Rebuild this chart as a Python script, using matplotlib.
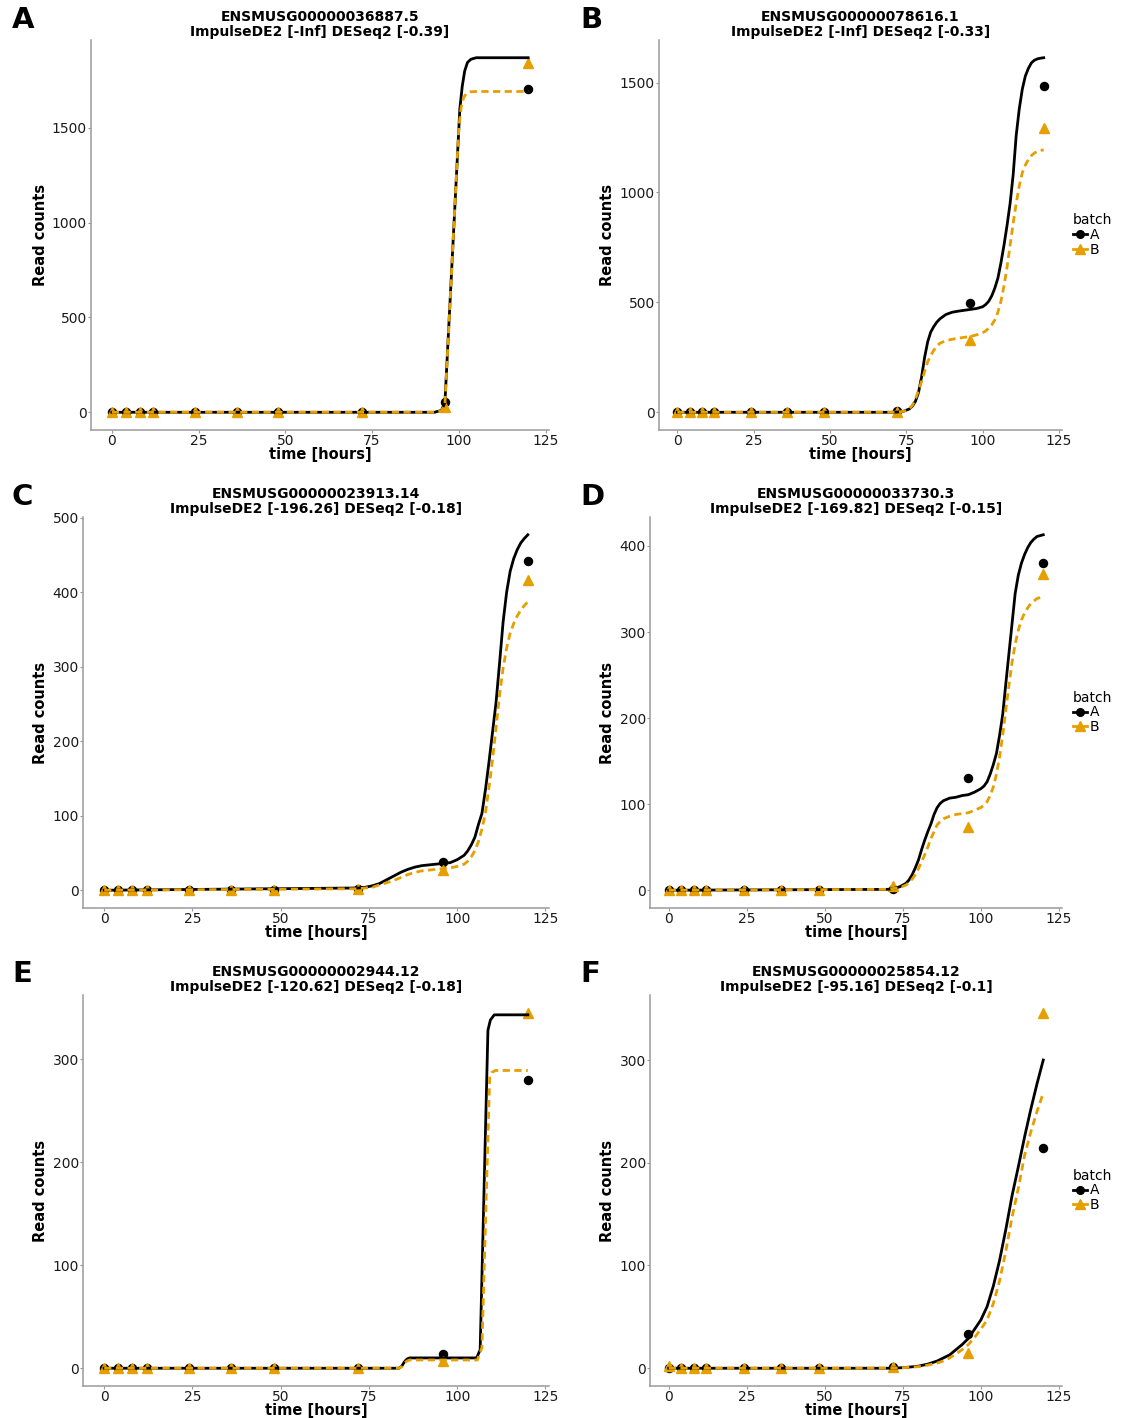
import matplotlib
matplotlib.use("Agg")
import matplotlib.pyplot as plt
from matplotlib.lines import Line2D

plt.rcParams['font.family'] = ['DejaVu Sans']

# ---------------- data ----------------
sample_times = [0, 4, 8, 12, 24, 36, 48, 72, 96, 120]

genes = ["ENSMUSG00000036887.5", "ENSMUSG00000078616.1", "ENSMUSG00000023913.14",
         "ENSMUSG00000033730.3", "ENSMUSG00000002944.12", "ENSMUSG00000025854.12"]
stats = ["ImpulseDE2 [-Inf] DESeq2 [-0.39]", "ImpulseDE2 [-Inf] DESeq2 [-0.33]",
         "ImpulseDE2 [-196.26] DESeq2 [-0.18]", "ImpulseDE2 [-169.82] DESeq2 [-0.15]",
         "ImpulseDE2 [-120.62] DESeq2 [-0.18]", "ImpulseDE2 [-95.16] DESeq2 [-0.1]"]
panel_letters = ["A", "B", "C", "D", "E", "F"]

# observed counts (batch A = black circles, batch B = orange triangles)
pts_A = [
    [0, 0, 0, 0, 0, 0, 0, 0, 53, 1706],
    [0, 0, 0, 0, 0, 0, 0, 5, 497, 1486],
    [0, 0, 0, 0, 0, 0, 0, 2, 38, 442],
    [0, 0, 0, 0, 0, 0, 0, 2, 130, 380],
    [0, 0, 0, 0, 0, 0, 0, 0, 14, 280],
    [0, 0, 0, 0, 0, 0, 0, 1, 33, 214],
]
pts_B = [
    [0, 0, 0, 0, 0, 0, 0, 0, 30, 1843],
    [0, 0, 0, 0, 0, 0, 0, 3, 328, 1294],
    [0, 0, 0, 0, 0, 0, 0, 2, 27, 416],
    [0, 0, 0, 0, 0, 0, 0, 5, 74, 368],
    [0, 0, 0, 0, 0, 0, 0, 0, 7, 345],
    [2, 0, 0, 0, 0, 0, 0, 1, 15, 346],
]

# fitted impulse curves
tB = [0, 70, 72, 74, 76, 77, 78, 79, 80, 81, 82, 83, 84, 85, 86, 88, 90, 92, 94, 96, 98,
      100, 101, 102, 103, 104, 105, 106, 107, 108, 109, 110, 111, 112, 113, 114, 115,
      116, 117, 118, 119, 120]
tC = [0, 72, 74, 76, 78, 80, 82, 84, 86, 88, 90, 92, 94, 96, 98, 100, 102, 103, 104, 105,
      106, 107, 108, 109, 110, 111, 112, 113, 114, 115, 116, 117, 118, 119, 120]
tD = [0, 70, 72, 74, 76, 77, 78, 79, 80, 81, 82, 83, 84, 85, 86, 87, 88, 90, 92, 94, 96,
      98, 100, 101, 102, 103, 104, 105, 106, 107, 108, 109, 110, 111, 112, 113, 114, 115,
      116, 117, 118, 119, 120]
tF = [0, 70, 75, 80, 83, 86, 88, 90, 92, 94, 96, 98, 100, 102, 104, 106, 108, 110, 112,
      114, 116, 118, 120]

fitA_t = [
    [0, 93, 95, 96, 100.3, 101, 101.7, 102.5, 103.5, 105, 120],
    tB, tC, tD,
    [0, 83.5, 84.3, 85, 85.8, 86.5, 105.5, 106.5, 108.7, 109.4, 110.5, 120],
    tF,
]
fitA_v = [
    [0, 0, 10, 50, 1600, 1720, 1800, 1845, 1862, 1870, 1870],
    [0, 0, 1, 4, 15, 28, 50, 90, 160, 250, 320, 365, 390, 410, 425, 445, 455, 460, 464,
     468, 472, 480, 490, 505, 530, 565, 610, 680, 760, 850, 950, 1080, 1260, 1380, 1470,
     1530, 1565, 1590, 1602, 1608, 1611, 1613],
    [0, 3, 4, 6, 9, 14, 19, 24, 28, 31, 33, 34, 35, 36, 37, 41, 47, 53, 61, 71, 88, 103,
     135, 172, 212, 252, 305, 360, 400, 428, 445, 457, 466, 472, 477],
    [0, 1, 2, 4, 8, 12, 18, 26, 35, 47, 58, 68, 77, 88, 96, 101, 104, 107, 108, 110, 111,
     114, 118, 121, 126, 135, 146, 159, 180, 204, 240, 275, 310, 345, 366, 380, 390, 398,
     404, 408, 411, 412, 413],
    [0, 0, 2, 6, 9, 10, 10, 18, 328, 338, 343, 343],
    [0, 0, 0.5, 2, 4, 7, 10, 13, 18, 23, 29, 38, 47, 60, 80, 105, 135, 168, 196, 225,
     252, 277, 300],
]
fitB_t = [
    [0, 93, 95, 96, 100, 100.7, 101.4, 102.2, 103.2, 105, 120],
    tB, tC, tD,
    [0, 83.5, 84.3, 85, 85.8, 86.5, 105.7, 107, 109.2, 109.8, 110.8, 120],
    tF,
]
fitB_v = [
    [0, 0, 8, 40, 1500, 1610, 1660, 1682, 1690, 1692, 1692],
    [0, 0, 1, 4, 15, 32, 60, 100, 140, 185, 230, 258, 282, 300, 314, 326, 332, 337, 341,
     345, 352, 362, 370, 382, 398, 420, 455, 505, 575, 660, 760, 860, 950, 1030, 1090,
     1125, 1150, 1168, 1180, 1187, 1191, 1194],
    [0, 2, 3, 4, 7, 10, 13, 17, 21, 24, 26, 27, 28, 29, 30, 32, 35, 39, 45, 53, 65, 82,
     104, 138, 175, 218, 262, 298, 325, 345, 358, 368, 376, 382, 387],
    [0, 1, 2, 3, 6, 9, 13, 18, 25, 33, 41, 50, 60, 68, 76, 80, 83, 86, 88, 89, 90, 93,
     96, 99, 103, 110, 120, 135, 155, 180, 210, 238, 265, 286, 302, 314, 322, 328, 333,
     336, 339, 340, 341],
    [0, 0, 1.5, 5, 7, 8, 8, 20, 283, 287, 289, 289],
    [0, 0, 0.5, 1.5, 3, 5, 7, 10, 14, 18, 23, 30, 38, 47, 63, 85, 114, 147, 175, 207,
     230, 250, 268],
]
yticks = [[0, 500, 1000, 1500], [0, 500, 1000, 1500], [0, 100, 200, 300, 400, 500],
          [0, 100, 200, 300, 400], [0, 100, 200, 300], [0, 100, 200, 300]]
xticks = [0, 25, 50, 75, 100, 125]
legend_panels = [False, True, False, True, False, True]

# ---------------- layout (pixels) ----------------
W, H = 1121, 1418
boxes = [(91, 549, 40, 430), (659, 1062, 40, 430),
         (83, 549, 517, 908), (650, 1062, 517, 908),
         (83, 549, 995, 1386), (650, 1062, 995, 1386)]
letter_pos = [(12, 28), (580, 28), (12, 505), (580, 505), (12, 982), (580, 982)]

ORANGE = "#E69F00"
AXCOL = "#9a9a9a"

fig = plt.figure(figsize=(W / 100, H / 100), dpi=100)

for i in range(6):
    l, r, t, b = boxes[i]
    ax = fig.add_axes([l / W, 1 - b / H, (r - l) / W, (b - t) / H])
    ax.plot(sample_times, pts_A[i], 'o', color='black', ms=5.8, zorder=2)
    ax.plot(sample_times, pts_B[i], '^', color=ORANGE, ms=7.5, zorder=2.5)
    ax.plot(fitA_t[i], fitA_v[i], '-', color='black', lw=2.0, zorder=3)
    ax.plot(fitB_t[i], fitB_v[i], color=ORANGE, lw=2.0, dashes=(2.6, 1.6), zorder=4)

    ymax = max(max(pts_A[i]), max(pts_B[i]), max(fitA_v[i]), max(fitB_v[i]))
    ax.set_ylim(-0.05 * ymax, 1.05 * ymax)
    ax.set_xlim(-6, 126)
    ax.set_xticks(xticks)
    ax.set_yticks(yticks[i])
    for s in ['top', 'right']:
        ax.spines[s].set_visible(False)
    for s in ['left', 'bottom']:
        ax.spines[s].set_color(AXCOL)
        ax.spines[s].set_linewidth(1.1)
    ax.tick_params(axis='both', length=2, width=0.8, color=AXCOL, labelsize=10,
                   labelcolor='#1a1a1a', pad=1)

    ax.set_title(genes[i] + "\n" + stats[i], fontsize=10, fontweight='bold',
                 pad=3, linespacing=1.05)
    ax.set_xlabel("time [hours]", fontsize=10.5, fontweight='bold')
    ax.xaxis.set_label_coords(0.5, -17 / (b - t))
    ax.set_ylabel("Read counts", fontsize=10.5, fontweight='bold')
    ylab_x = 48 if l < 300 else 615
    ax.yaxis.set_label_coords((ylab_x - l) / (r - l), 0.5)

    if legend_panels[i]:
        handles = [Line2D([], [], color='black', marker='o', ms=5.5, lw=2.0),
                   Line2D([], [], color=ORANGE, marker='^', ms=6.5, lw=2.0)]
        ax.legend(handles, ['A', 'B'], title='batch', loc='center left',
                  bbox_to_anchor=(1.0, 0.5), frameon=False, fontsize=10,
                  title_fontsize=10, handlelength=1.0, handletextpad=0.2,
                  labelspacing=0.05, borderaxespad=0.4, alignment='left')

    lx, ly = letter_pos[i]
    fig.text(lx / W, 1 - ly / H, panel_letters[i], fontsize=21, fontweight='bold',
             va='baseline', ha='left')

fig.savefig("out.png", dpi=100)
